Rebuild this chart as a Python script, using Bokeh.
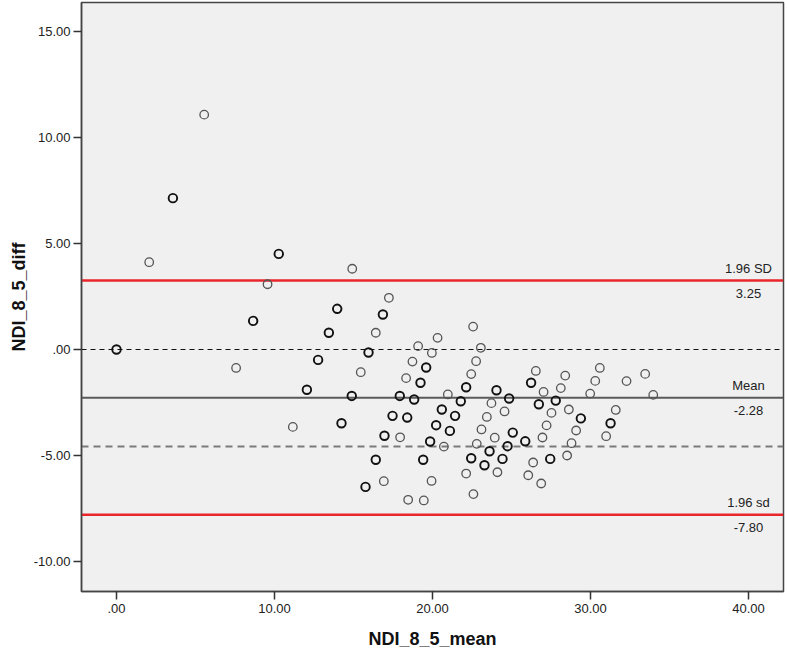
from bokeh.plotting import figure
from bokeh.models import Span, FixedTicker, Range1d, ColumnDataSource
from bokeh.core.properties import value
from bokeh.embed import file_html
from bokeh.resources import INLINE

# ---- data ----
x_mean = [0.00, 2.07, 3.57, 5.55, 7.57, 8.65, 9.56, 10.27, 11.16, 12.05, 12.76,
          14.92, 17.24, 13.97, 16.86, 13.44, 16.41, 22.57, 20.32, 19.09, 23.06,
          19.96, 15.95, 22.76, 18.73, 19.60, 15.46, 22.45, 18.33, 19.24, 26.54,
          28.40, 30.59, 30.30, 33.46, 32.28, 33.97, 29.98, 26.24, 27.03, 28.12,
          14.89, 17.93, 18.84, 20.97, 22.13, 21.79, 24.05, 24.85, 23.73, 26.73,
          27.80, 20.59, 24.56, 27.53, 28.63, 31.60, 17.47, 18.40, 21.43, 23.44,
          29.39, 31.27, 14.24, 20.23, 21.10, 27.22, 29.09, 23.10, 25.08, 16.96,
          17.95, 23.94, 26.96, 30.99, 19.85, 25.87, 20.72, 22.80, 24.75, 28.80,
          23.61, 16.41, 19.41, 22.45, 24.43, 27.45, 28.52, 23.29, 26.37, 22.13,
          24.11, 26.06, 16.92, 19.94, 26.88, 15.76, 22.59, 18.46, 19.45]
y_diff = [0.00, 4.12, 7.14, 11.08, -0.87, 1.35, 3.08, 4.51, -3.65, -1.90, -0.49,
          3.81, 2.44, 1.92, 1.65, 0.79, 0.79, 1.08, 0.55, 0.16, 0.08,
          -0.16, -0.14, -0.55, -0.57, -0.85, -1.07, -1.16, -1.35, -1.57, -1.01,
          -1.23, -0.87, -1.48, -1.15, -1.49, -2.14, -2.08, -1.57, -2.00, -1.82,
          -2.19, -2.19, -2.36, -2.12, -1.78, -2.44, -1.92, -2.31, -2.53, -2.58,
          -2.41, -2.83, -2.92, -2.99, -2.83, -2.85, -3.13, -3.21, -3.13, -3.18,
          -3.25, -3.48, -3.48, -3.57, -3.84, -3.58, -3.82, -3.77, -3.92, -4.07,
          -4.14, -4.16, -4.15, -4.09, -4.34, -4.33, -4.58, -4.45, -4.56, -4.42,
          -4.80, -5.20, -5.20, -5.13, -5.16, -5.16, -5.00, -5.46, -5.33, -5.85,
          -5.79, -5.93, -6.21, -6.20, -6.32, -6.48, -6.82, -7.09, -7.12]
# number of cases drawn at the same spot (2 = overlapping, darker circle)
n_cases = [2, 1, 2, 1, 1, 2, 1, 2, 1, 2, 2,
           1, 1, 2, 2, 2, 1, 1, 1, 1, 1,
           1, 2, 1, 1, 2, 1, 1, 1, 2, 1,
           1, 1, 1, 1, 1, 1, 1, 2, 1, 1,
           2, 2, 2, 1, 2, 2, 2, 2, 1, 2,
           2, 2, 1, 1, 1, 1, 2, 2, 2, 1,
           2, 2, 2, 2, 2, 1, 1, 1, 2, 2,
           1, 1, 1, 1, 2, 2, 1, 1, 2, 1,
           2, 2, 2, 2, 2, 2, 1, 2, 1, 1,
           1, 1, 1, 1, 1, 2, 1, 1, 1]

mean_diff = -2.28
upper_loa = 3.25
lower_loa = -7.80
zero_line = 0.0
lower_dash = -4.57

x_ticks = [0, 10, 20, 30, 40]
x_tick_labels = [".00", "10.00", "20.00", "30.00", "40.00"]
y_ticks = [-10, -5, 0, 5, 10, 15]
y_tick_labels = ["-10.00", "-5.00", ".00", "5.00", "10.00", "15.00"]

label_x = 40
above_texts = ["1.96 SD", "Mean", "1.96 sd"]
below_texts = ["3.25", "-2.28", "-7.80"]
label_levels = [upper_loa, mean_diff, lower_loa]

FONT = "Liberation Sans"

p = figure(width=787, height=654,
           x_range=Range1d(-2.215, 42.215), y_range=Range1d(-11.415, 16.37),
           output_backend="svg", toolbar_location=None,
           min_border_left=81, min_border_right=4, min_border_top=2,
           min_border_bottom=63)
p.background_fill_color = "#f0f0f0"
p.border_fill_color = "white"
p.grid.visible = False
p.outline_line_color = "#444444"
p.outline_line_width = 1.5

for ax, ticks, labels in ((p.xaxis, x_ticks, x_tick_labels), (p.yaxis, y_ticks, y_tick_labels)):
    ax.ticker = FixedTicker(ticks=ticks)
    ax.major_label_overrides = {t: l for t, l in zip(ticks, labels)}
    ax.minor_tick_line_color = None
    ax.major_tick_in = 0
    ax.major_tick_out = 8
    ax.major_tick_line_color = "#333333"
    ax.major_tick_line_width = 1.5
    ax.axis_line_color = "#444444"
    ax.axis_line_width = 1.5
    ax.major_label_text_font = FONT
    ax.major_label_text_font_size = "13px"
    ax.major_label_text_color = "#222222"
    ax.axis_label_text_font = FONT
    ax.axis_label_text_font_size = "18px"
    ax.axis_label_text_font_style = "bold"
    ax.axis_label_text_color = "#111111"

p.xaxis.axis_label = "NDI_8_5_mean"
p.yaxis.axis_label = "NDI_8_5_diff"
p.xaxis.major_label_standoff = 4
p.xaxis.axis_label_standoff = 13
p.yaxis.major_label_standoff = 3
p.yaxis.axis_label_standoff = 2

# reference lines
p.add_layout(Span(location=zero_line, dimension="width", line_color="#111111",
                  line_width=1.2, line_dash="5 4", level="underlay"))
p.add_layout(Span(location=lower_dash, dimension="width", line_color="#7a7a7a",
                  line_width=2, line_dash="7 5", level="underlay"))
p.add_layout(Span(location=mean_diff, dimension="width", line_color="#5a5a5a",
                  line_width=2, level="underlay"))
for loc in (upper_loa, lower_loa):
    p.add_layout(Span(location=loc, dimension="width", line_color="#e8262b",
                      line_width=2.5, level="underlay"))

# points
colors = ["#111111" if n > 1 else "#555555" for n in n_cases]
widths = [1.9 if n > 1 else 1.3 for n in n_cases]
src = ColumnDataSource(dict(x=x_mean, y=y_diff, c=colors, w=widths))
p.scatter("x", "y", source=src, marker="circle", size=8.5, fill_color=None,
          line_color="c", line_width="w")

# line labels
lx = [label_x] * len(label_levels)
p.text(x=lx, y=label_levels, text=above_texts, text_align="center",
       text_baseline="bottom", y_offset=-5, text_font=value(FONT),
       text_font_size="13px", text_color="#222222")
p.text(x=lx, y=label_levels, text=below_texts, text_align="center",
       text_baseline="top", y_offset=8, text_font=value(FONT),
       text_font_size="13px", text_color="#222222")

open("out.html", "w").write(file_html(p, INLINE))
